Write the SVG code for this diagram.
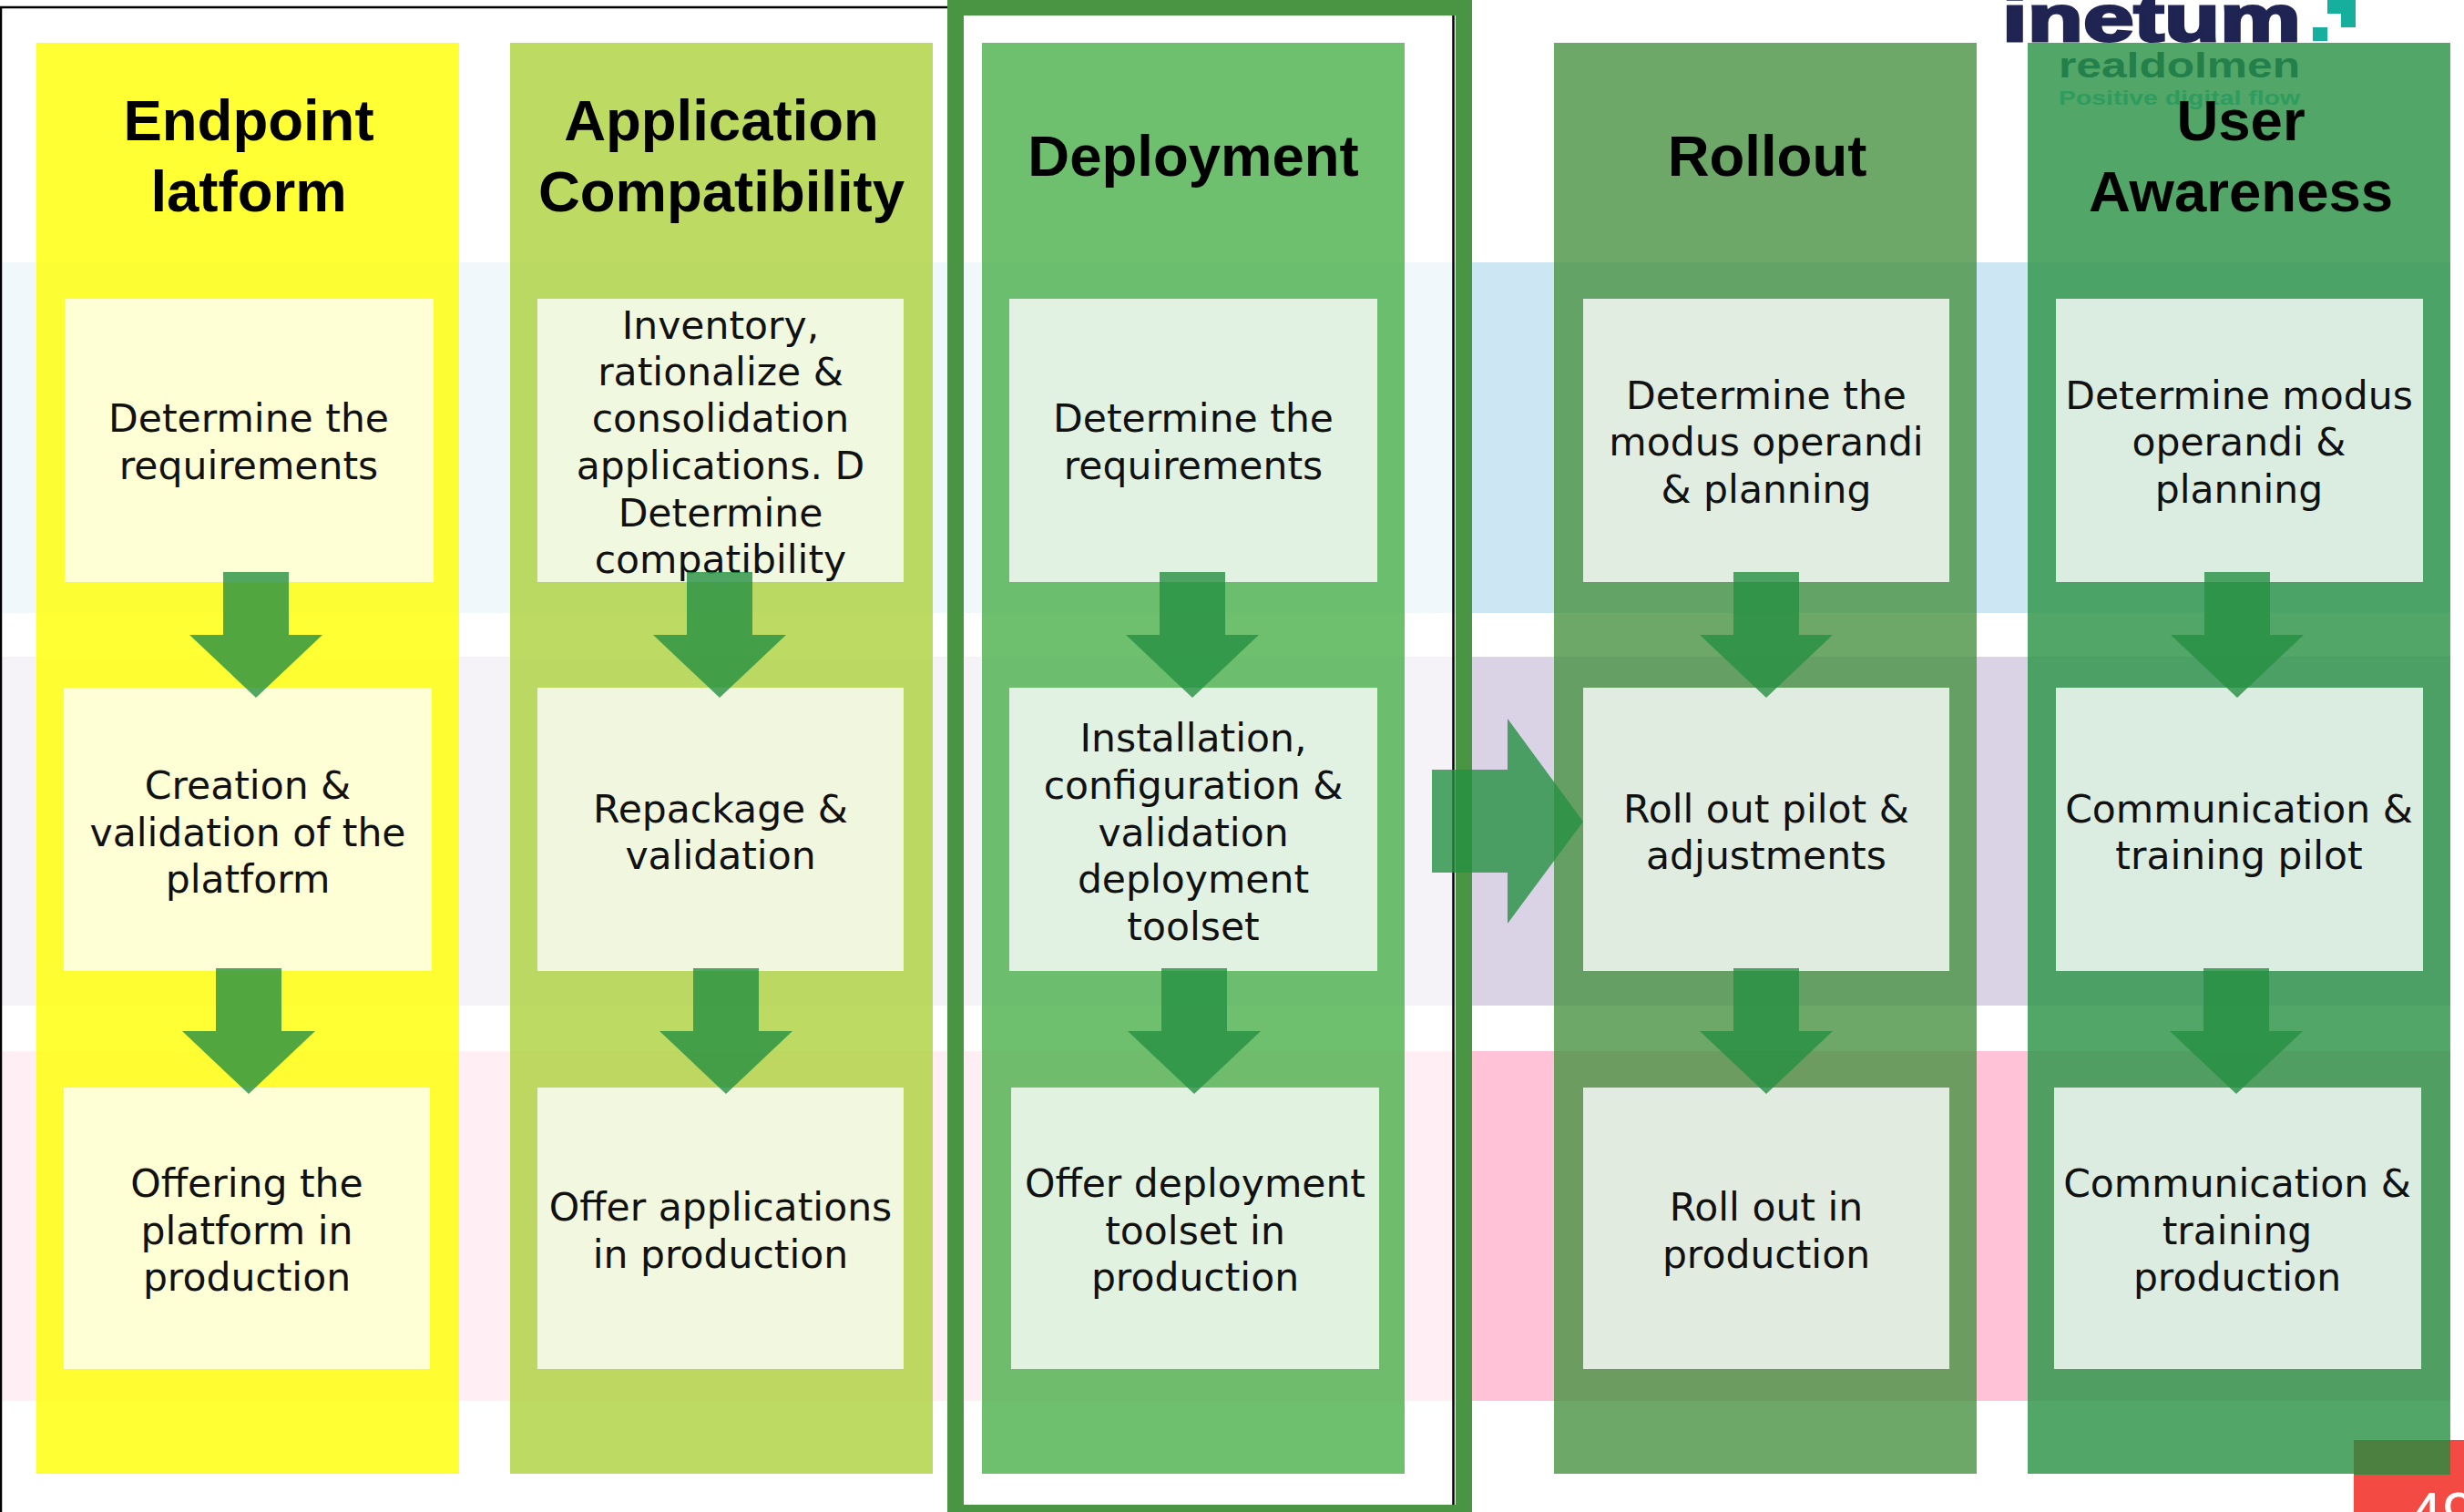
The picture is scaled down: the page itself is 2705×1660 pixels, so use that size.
<svg xmlns="http://www.w3.org/2000/svg" width="2705" height="1660" viewBox="0 0 2705 1660">
<style>
.h{font-family:"Liberation Sans",Arial,sans-serif;font-weight:700;font-size:63.500px;text-anchor:middle;fill:#000}
.t{font-family:"DejaVu Sans",Verdana,sans-serif;font-size:42.500px;text-anchor:middle;fill:#111}
.c{fill-opacity:.8}
.card{fill:#fff;fill-opacity:.8}
.ar{fill:#259042;fill-opacity:.8}
</style>
<defs>
<path id="d" d="M-36 0H36V69H73L0 138L-73 69H-36Z"/>
</defs>
<rect width="2705" height="1660" fill="#fff"/>
<g id="bands">
<rect x="2" y="288" width="2688" height="385" fill="#CCE7F3"/>
<rect x="2" y="721" width="2688" height="383" fill="#DAD3E6"/>
<rect x="2" y="1154" width="2688" height="384" fill="#FFC2D6"/>
<rect x="0" y="0" width="1616" height="1660" fill="#fff" fill-opacity=".72"/>
<rect x="2226" y="288" width="464" height="1250" fill="#fff" fill-opacity=".35"/>
</g>
<g id="logo">
<text x="2198" y="45" font-family="Liberation Sans,sans-serif" font-weight="700" font-size="72" textLength="328" lengthAdjust="spacingAndGlyphs" fill="#1F2452" stroke="#1F2452" stroke-width="3">inetum</text>
<path d="M2539 30h16v15h-16zM2555 0h31v30h-16v-15h-15z" fill="#16AE9C"/>
</g>
<g id="frame">
<path d="M1 1660V8H1040M1595.500 17V1652" fill="none" stroke="#000" stroke-width="2.500"/>
<path fill-rule="evenodd" d="M1040 0H1616V1660H1040ZM1058 17V1652H1598V17Z" fill="#4A9544"/>
</g>
<g id="col-endpoint"><rect class="c" x="40" y="47" width="464" height="1571" fill="#FFFF00"/><text class="h" x="273" y="154">Endpoint</text><text class="h" x="273" y="232">latform</text></g>
<g id="col-application"><rect class="c" x="560" y="47" width="464" height="1571" fill="#ACD13C"/><text class="h" x="792" y="154">Application</text><text class="h" x="792" y="232">Compatibility</text></g>
<g id="col-deployment"><rect class="c" x="1078" y="47" width="464" height="1571" fill="#4AAF4A"/><text class="h" x="1310" y="193">Deployment</text></g>
<g id="col-rollout"><rect class="c" x="1706" y="47" width="464" height="1571" fill="#499242"/><text class="h" x="1940" y="193">Rollout</text></g>
<g id="col-awareness"><rect class="c" x="2226" y="47" width="464" height="1571" fill="#259042"/>
<text x="2260" y="85" font-family="Liberation Sans,sans-serif" font-weight="700" font-size="38" textLength="265" lengthAdjust="spacingAndGlyphs" fill="#23804A">realdolmen</text>
<text x="2260" y="115" font-family="Liberation Sans,sans-serif" font-weight="700" font-size="22" textLength="265" lengthAdjust="spacingAndGlyphs" fill="#2E9C5F">Positive digital flow</text>
<text class="h" x="2460" y="154">User</text><text class="h" x="2460" y="232">Awareness</text></g>

<g id="n11"><rect class="card" x="71" y="328" width="405" height="311"/><text class="t" x="273" y="474">Determine the</text><text class="t" x="273" y="526">requirements</text></g>
<g id="n12"><rect class="card" x="70" y="755" width="404" height="311"/><text class="t" x="272" y="877">Creation &amp;</text><text class="t" x="272" y="929">validation of the</text><text class="t" x="272" y="980">platform</text></g>
<g id="n13"><rect class="card" x="70" y="1194" width="402" height="309"/><text class="t" x="271" y="1314">Offering the</text><text class="t" x="271" y="1366">platform in</text><text class="t" x="271" y="1417">production</text></g>

<g id="n21"><rect class="card" x="590" y="328" width="402" height="311"/><text class="t" x="791" y="372">Inventory,</text><text class="t" x="791" y="423">rationalize &amp;</text><text class="t" x="791" y="474">consolidation</text><text class="t" x="791" y="526">applications. D</text><text class="t" x="791" y="578">Determine</text><text class="t" x="791" y="629">compatibility</text></g>
<g id="n22"><rect class="card" x="590" y="755" width="402" height="311"/><text class="t" x="791" y="903">Repackage &amp;</text><text class="t" x="791" y="954">validation</text></g>
<g id="n23"><rect class="card" x="590" y="1194" width="402" height="309"/><text class="t" x="791" y="1340">Offer applications</text><text class="t" x="791" y="1392">in production</text></g>

<g id="n31"><rect class="card" x="1108" y="328" width="404" height="311"/><text class="t" x="1310" y="474">Determine the</text><text class="t" x="1310" y="526">requirements</text></g>
<g id="n32"><rect class="card" x="1108" y="755" width="404" height="311"/><text class="t" x="1310" y="825">Installation,</text><text class="t" x="1310" y="877">configuration &amp;</text><text class="t" x="1310" y="929">validation</text><text class="t" x="1310" y="980">deployment</text><text class="t" x="1310" y="1032">toolset</text></g>
<g id="n33"><rect class="card" x="1110" y="1194" width="404" height="309"/><text class="t" x="1312" y="1314">Offer deployment</text><text class="t" x="1312" y="1366">toolset in</text><text class="t" x="1312" y="1417">production</text></g>

<g id="n41"><rect class="card" x="1738" y="328" width="402" height="311"/><text class="t" x="1939" y="449">Determine the</text><text class="t" x="1939" y="500">modus operandi</text><text class="t" x="1939" y="552">&amp; planning</text></g>
<g id="n42"><rect class="card" x="1738" y="755" width="402" height="311"/><text class="t" x="1939" y="903">Roll out pilot &amp;</text><text class="t" x="1939" y="954">adjustments</text></g>
<g id="n43"><rect class="card" x="1738" y="1194" width="402" height="309"/><text class="t" x="1939" y="1340">Roll out in</text><text class="t" x="1939" y="1392">production</text></g>

<g id="n51"><rect class="card" x="2257" y="328" width="403" height="311"/><text class="t" x="2458" y="449">Determine modus</text><text class="t" x="2458" y="500">operandi &amp;</text><text class="t" x="2458" y="552">planning</text></g>
<g id="n52"><rect class="card" x="2257" y="755" width="403" height="311"/><text class="t" x="2458" y="903">Communication &amp;</text><text class="t" x="2458" y="954">training pilot</text></g>
<g id="n53"><rect class="card" x="2255" y="1194" width="403" height="309"/><text class="t" x="2456" y="1314">Communication &amp;</text><text class="t" x="2456" y="1366">training</text><text class="t" x="2456" y="1417">production</text></g>

<g id="connectors" class="ar">
<use href="#d" x="281" y="628"/><use href="#d" x="790" y="628"/><use href="#d" x="1309" y="628"/><use href="#d" x="1939" y="628"/><use href="#d" x="2456" y="628"/>
<use href="#d" x="273" y="1063"/><use href="#d" x="797" y="1063"/><use href="#d" x="1311" y="1063"/><use href="#d" x="1939" y="1063"/><use href="#d" x="2455" y="1063"/>
<path d="M1572 845H1655V789L1738 902L1655 1014V958H1572Z"/>
</g>
<g id="page-number">
<rect x="2584" y="1581" width="121" height="79" fill="#F44A44"/>
<rect x="2584" y="1581" width="106" height="38" fill="#4B8040"/>
<text x="2645" y="1684" font-family="Liberation Sans,sans-serif" font-size="65" fill="#fff">49</text>
</g>
</svg>
